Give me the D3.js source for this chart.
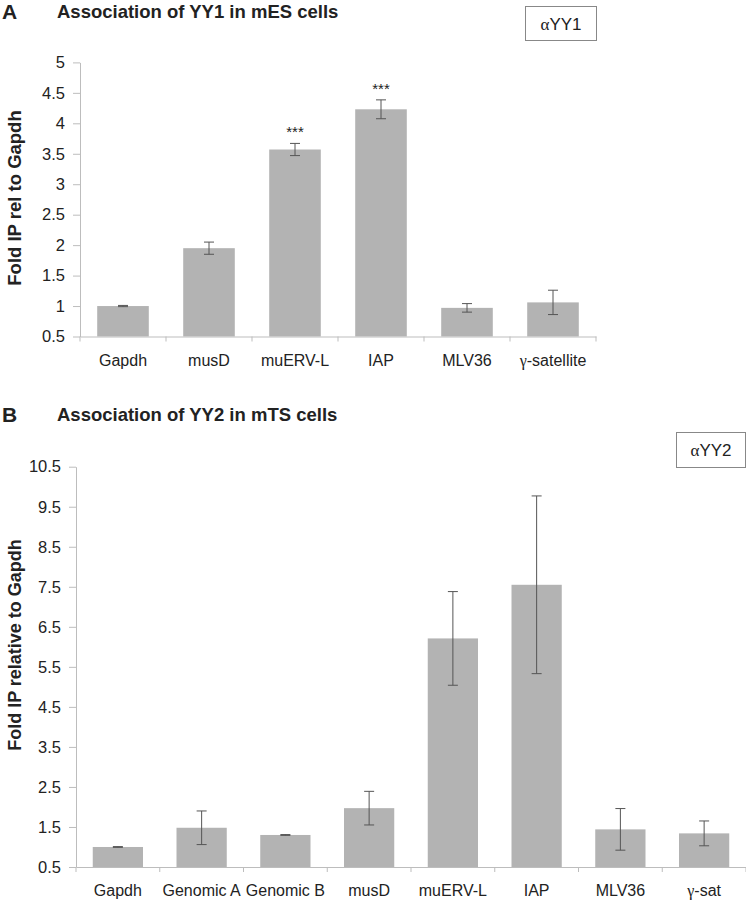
<!DOCTYPE html>
<html><head><meta charset="utf-8">
<script src="https://cdn.jsdelivr.net/npm/d3@7"></script>
<style>
body{margin:0;background:#fff;}
svg{display:block;font-family:"Liberation Sans",Arial,sans-serif;}
</style></head>
<body>
<svg id="c" width="746" height="904"></svg>
<script>
// Panel A data
const catsA = ["Gapdh","musD","muERV-L","IAP","MLV36","γ-satellite"];
const valsA = [1.0, 1.95, 3.57, 4.23, 0.97, 1.06];
const errA  = [0.01, 0.10, 0.10, 0.155, 0.07, 0.20];
const starsA = ["", "", "***", "***", "", ""];
const ticksA = [0.5,1,1.5,2,2.5,3,3.5,4,4.5,5];

// Panel B data
const catsB = ["Gapdh","Genomic A","Genomic B","musD","muERV-L","IAP","MLV36","γ-sat"];
const valsB = [1.0, 1.48, 1.30, 1.97, 6.21, 7.55, 1.44, 1.34];
const errB  = [0.01, 0.42, 0.01, 0.42, 1.17, 2.22, 0.52, 0.31];
const ticksB = [0.5,1.5,2.5,3.5,4.5,5.5,6.5,7.5,8.5,9.5,10.5];

const svg = d3.select("#c");
const BAR = "#b3b3b3", AX = "#bdbdbd", TXT = "#222", ERR = "#555";

function greekLabel(sel, txt){
  sel.text(null);
  const first = txt.charAt(0);
  if (/[α-ωΑ-Ω]/.test(first)){
    sel.append("tspan").style("font-family","'Liberation Serif',serif").text(first);
    sel.append("tspan").text(txt.slice(1));
  } else sel.text(txt);
}

function panel(o){
  const g = svg.append("g");
  const x = d3.scaleBand().domain(o.cats).range([o.x0, o.x1]).paddingInner(0.4).paddingOuter(0.2);
  const y = d3.scaleLinear().domain([o.ticks[0], o.ticks[o.ticks.length-1]]).range([o.y0, o.y1]);
  const step = x.step();

  // y axis
  const ya = g.append("g").attr("transform",`translate(${o.x0},0)`)
    .call(d3.axisLeft(y).tickValues(o.ticks).tickSize(7).tickSizeOuter(0).tickPadding(8).tickFormat(d=>String(d)));
  ya.select(".domain").attr("stroke",AX);
  ya.selectAll(".tick line").attr("stroke",AX);
  ya.selectAll(".tick text").attr("fill",TXT).style("font-size","16.5px").style("font-family","'Liberation Sans',Arial,sans-serif");

  // bars
  g.selectAll("rect.bar").data(o.cats).join("rect")
    .attr("x", c=>x(c)).attr("width", x.bandwidth())
    .attr("y", (c,i)=>y(o.vals[i])).attr("height",(c,i)=>y(o.ticks[0])-y(o.vals[i]))
    .attr("fill",BAR);

  // x axis
  const xa = g.append("g").attr("transform",`translate(0,${o.y0})`)
    .call(d3.axisBottom(x).tickSize(0).tickPadding(o.labPad));
  xa.select(".domain").attr("stroke",AX);
  xa.selectAll(".tick text").attr("fill",TXT).style("font-size","16px").style("font-family","'Liberation Sans',Arial,sans-serif")
    .each(function(d){ greekLabel(d3.select(this), d); });
  // separators between categories (band boundaries)
  const sepPos = d3.range(o.cats.length+1).map(i=> o.x0 + i*step);
  g.selectAll("line.sep").data(sepPos).join("line")
    .attr("x1",d=>d).attr("x2",d=>d).attr("y1",o.y0).attr("y2",o.y0+5).attr("stroke",AX);

  // error bars
  const cap = 5;
  o.cats.forEach((c,i)=>{
    const cx = x(c)+x.bandwidth()/2;
    const hi = y(o.vals[i]+o.errs[i]), lo = y(o.vals[i]-o.errs[i]);
    g.append("line").attr("x1",cx).attr("x2",cx).attr("y1",hi).attr("y2",lo).attr("stroke",ERR).attr("stroke-width",1);
    g.append("line").attr("x1",cx-cap).attr("x2",cx+cap).attr("y1",hi).attr("y2",hi).attr("stroke",ERR).attr("stroke-width",1);
    g.append("line").attr("x1",cx-cap).attr("x2",cx+cap).attr("y1",lo).attr("y2",lo).attr("stroke",ERR).attr("stroke-width",1);
    if (o.stars && o.stars[i]) {
      g.append("text").attr("x",cx).attr("y",hi-6).attr("text-anchor","middle")
        .attr("fill",TXT).style("font-size","15px").text(o.stars[i]);
    }
  });

  // y label
  g.append("text").attr("transform",`translate(${o.ylx},${o.yly}) rotate(-90)`)
    .attr("text-anchor","middle").attr("fill",TXT).style("font-size",o.ylsize).style("font-weight","bold")
    .text(o.ylabel);

  // panel letter and title
  g.append("text").attr("x",2).attr("y",o.ty+7).attr("fill",TXT).style("font-size","21px").style("font-weight","bold").text(o.letter);
  g.append("text").attr("x",57).attr("y",o.ty+6).attr("fill",TXT).style("font-size","18.5px").style("font-weight","bold").text(o.title);

  // legend box
  g.append("rect").attr("x",o.bx).attr("y",o.by).attr("width",o.bw).attr("height",o.bh)
    .attr("fill","#fff").attr("stroke","#888").attr("stroke-width",1);
  const lt = g.append("text").attr("x",o.bx+o.bw/2).attr("y",o.by+o.bh/2+6).attr("text-anchor","middle")
    .attr("fill",TXT).style("font-size","17px");
  lt.append("tspan").style("font-family","'Liberation Serif',serif").text("α");
  lt.append("tspan").text(o.legend.slice(1));
}

panel({cats:catsA, vals:valsA, errs:errA, stars:starsA, ticks:ticksA,
  x0:80, x1:596, y0:336.5, y1:62.4, labPad:18,
  ylabel:"Fold IP rel to Gapdh", ylx:21, yly:198, ylsize:"18.5px",
  letter:"A", title:"Association of YY1 in mES cells", ty:12,
  legend:"αYY1", bx:525.5, by:6.5, bw:71, bh:34});

panel({cats:catsB, vals:valsB, errs:errB, ticks:ticksB,
  x0:76, x1:746, y0:867, y1:466.7, labPad:18,
  ylabel:"Fold IP relative to Gapdh", ylx:21, yly:645, ylsize:"18px",
  letter:"B", title:"Association of YY2 in mTS cells", ty:415,
  legend:"αYY2", bx:676.5, by:432.5, bw:69, bh:35});
</script>
</body></html>
